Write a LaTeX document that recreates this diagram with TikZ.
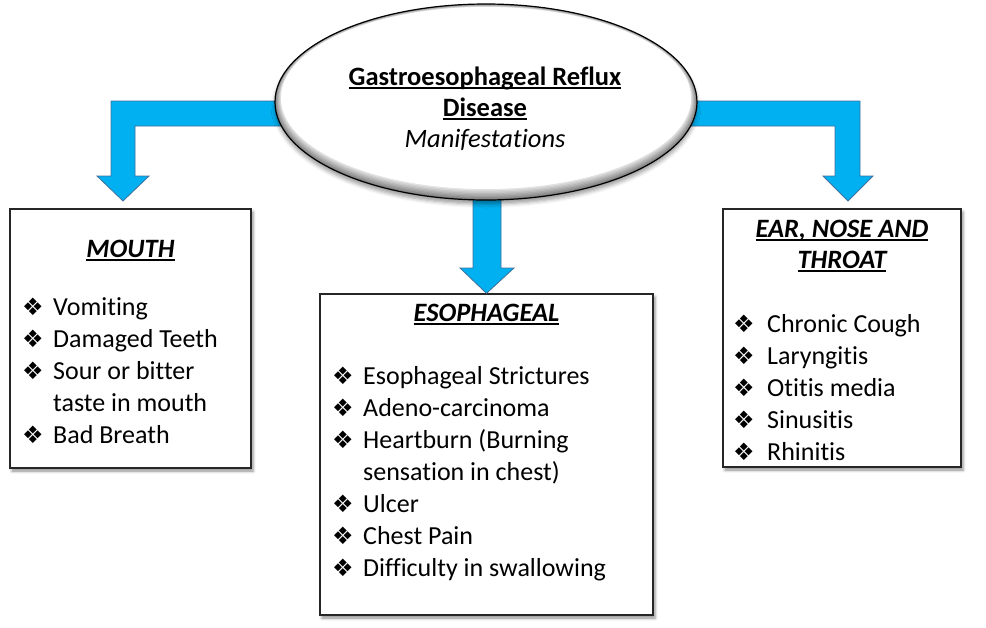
\documentclass[tikz,border=0pt]{standalone}
\usepackage{fontspec}
\setmainfont{Carlito}[Ligatures=NoCommon]
\newfontfamily\symfont{DejaVu Sans}
\usetikzlibrary{shapes.geometric, shadows.blur, calc}
\definecolor{arrowblue}{HTML}{00B0F0}
\definecolor{arrowedge}{HTML}{41719C}
\newlength{\bulw}
\setlength{\bulw}{31pt}
\newcommand{\undl}[1]{\setbox0\hbox{#1}\rlap{\rule[-4pt]{\wd0}{1.8pt}}\box0}
\newcommand{\bul}{\makebox[\bulw][l]{\symfont\fontsize{24}{24}\selectfont ❖}}

\begin{document}
\begin{tikzpicture}[x=1pt, y=-1pt,
  box/.style={draw=black!85, line width=1.3pt, fill=white, inner sep=0pt,
    blur shadow={shadow xshift=2pt, shadow yshift=-3pt, shadow blur radius=3pt, shadow opacity=45}},
  head/.style={inner sep=0pt, anchor=base, font=\fontsize{26.5}{31}\selectfont\bfseries\itshape},
  list/.style={inner sep=0pt, anchor=base west, font=\fontsize{26}{32}\selectfont},
  barrow/.style={fill=arrowblue, draw=arrowedge, line width=0.8pt, line join=miter}]
\useasboundingbox (0,0) rectangle (986,627);

% the three boxes
\node[box, minimum width=241pt, minimum height=259pt] (mouth) at (130.5,338.5) {};
\node[box, minimum width=333pt, minimum height=321pt] (esoph) at (486.5,454.5) {};
\node[box, minimum width=238pt, minimum height=258pt] (ent) at (842,338) {};

\node[head] (mouthttl) at (130.5,257) {\undl{MOUTH}};
\node[head] (esophttl) at (486.5,321) {\undl{ESOPHAGEAL}};
\node[head] (entttl) at (842,237) {\begin{tabular}[t]{@{}c@{}}\undl{EAR, NOSE AND}\\ \undl{THROAT}\end{tabular}};

\node[list] (mouthlist) at (22,315) {\begin{tabular}[t]{@{}l@{}}
  \bul Vomiting\\
  \bul Damaged Teeth\\
  \bul Sour or bitter\\
  \hspace*{\bulw}taste in mouth\\
  \bul Bad Breath
\end{tabular}};
\node[list] (esophlist) at (332,384) {\begin{tabular}[t]{@{}l@{}}
  \bul Esophageal Strictures\\
  \bul Adeno-carcinoma\\
  \bul Heartburn (Burning\\
  \hspace*{\bulw}sensation in chest)\\
  \bul Ulcer\\
  \bul Chest Pain\\
  \bul Difficulty in swallowing
\end{tabular}};
\node[list] (entlist) at (733,332) {\setlength{\bulw}{34pt}\begin{tabular}[t]{@{}l@{}}
  \bul Chronic Cough\\
  \bul Laryngitis\\
  \bul Otitis media\\
  \bul Sinusitis\\
  \bul Rhinitis
\end{tabular}};

% block arrows
\filldraw[barrow] (300,101) -- (111,101) -- (111,176) -- (97,176) -- (123,201)
  -- (149,176) -- (135,176) -- (135,126) -- (300,126) -- cycle;
\filldraw[barrow] (670,101) -- (860,101) -- (860,176) -- (873,176) -- (848,201)
  -- (823,176) -- (835,176) -- (835,126) -- (670,126) -- cycle;
\filldraw[barrow] (473,180) -- (501,180) -- (501,268) -- (514,268) -- (esoph.north)
  -- (460,268) -- (473,268) -- cycle;

% the ellipse
\node[ellipse, minimum width=422pt, minimum height=196pt, inner sep=0pt, fill=white,
  blur shadow={shadow xshift=0pt, shadow yshift=-4pt, shadow blur radius=4pt, shadow opacity=40}]
  (gerd) at (486,102) {};
\begin{scope}
  \clip (gerd.center) ellipse [x radius=211, y radius=98];
  \foreach \i in {0,...,8}{
    \pgfmathsetmacro\g{50-5.5*\i}
    \fill[black!\g] ($(gerd.center)+(0,-0.5*\i)$) ellipse [x radius=211-0.75*\i, y radius=98-0.875*\i];
  }
  \fill[white] ($(gerd.center)+(0,-4)$) ellipse [x radius=205, y radius=91];
\end{scope}
\draw[line width=1.2pt] (gerd.center) ellipse [x radius=211, y radius=98];

\node[inner sep=0pt, anchor=base, font=\fontsize{26.5}{31}\selectfont] (gerdttl) at (485,85)
  {\begin{tabular}[t]{@{}c@{}}\undl{\textbf{Gastroesophageal Reflux}}\\ \undl{\textbf{Disease}}\\ \textit{Manifestations}\end{tabular}};
\end{tikzpicture}
\end{document}
